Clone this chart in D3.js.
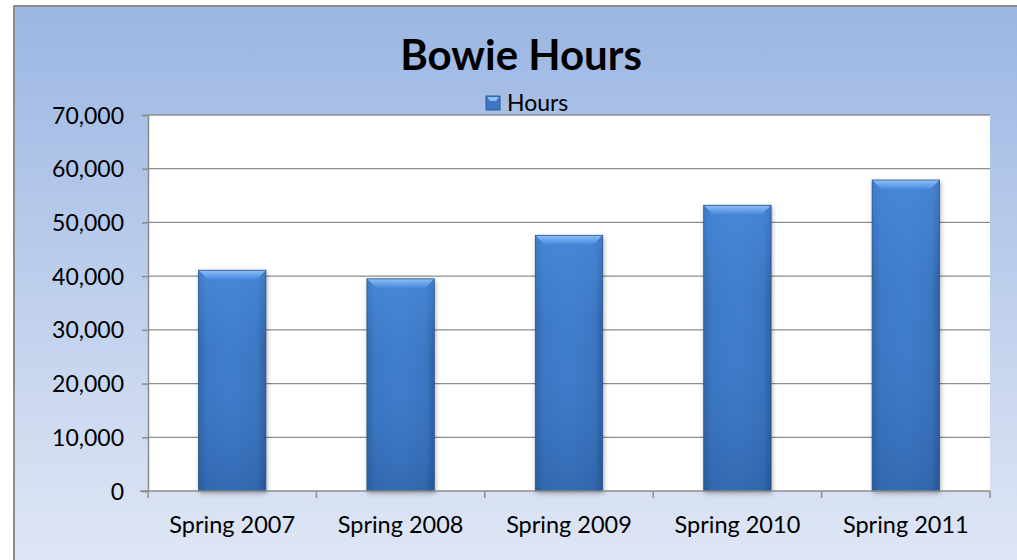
<!DOCTYPE html>
<html>
<head>
<meta charset="utf-8">
<script src="https://cdn.jsdelivr.net/npm/d3@7"></script>
<style>
body { margin: 0; background: #fff; }
text { font-family: Lato, "Open Sans", sans-serif; fill: #000; }
</style>
</head>
<body>
<div id="chart"></div>
<script>
// chart data
var categories = ["Spring 2007", "Spring 2008", "Spring 2009", "Spring 2010", "Spring 2011"];
var hours = [41100, 39500, 47600, 53200, 57900];
var yTicks = [0, 10000, 20000, 30000, 40000, 50000, 60000, 70000];

var W = 1017, H = 560;
var mrg = { top: 115, right: 27, bottom: 69, left: 148 };
var plotW = W - mrg.left - mrg.right,
    plotH = H - mrg.top - mrg.bottom;

var svg = d3.select("#chart").append("svg")
  .attr("width", W).attr("height", H);

var defs = svg.append("defs");
var bg = defs.append("linearGradient").attr("id", "bg")
  .attr("x1", 0).attr("y1", 0).attr("x2", 0).attr("y2", 1);
bg.append("stop").attr("offset", "0%").attr("stop-color", "#9bb6e3");
bg.append("stop").attr("offset", "100%").attr("stop-color", "#e0e7f5");

var barG = defs.append("linearGradient").attr("id", "barG")
  .attr("x1", 0).attr("y1", 0).attr("x2", 1).attr("y2", 0);
barG.append("stop").attr("offset", "0%").attr("stop-color", "#2f63a6");
barG.append("stop").attr("offset", "12%").attr("stop-color", "#3b77c4");
barG.append("stop").attr("offset", "50%").attr("stop-color", "#3f7ccb");
barG.append("stop").attr("offset", "88%").attr("stop-color", "#3a74bf");
barG.append("stop").attr("offset", "100%").attr("stop-color", "#2b5a98");

var shade = defs.append("linearGradient").attr("id", "shade")
  .attr("x1", 0).attr("y1", 0).attr("x2", 0).attr("y2", 1);
shade.append("stop").attr("offset", "0%").attr("stop-color", "#4d8fe0").attr("stop-opacity", 0.6);
shade.append("stop").attr("offset", "35%").attr("stop-color", "#4d8fe0").attr("stop-opacity", 0.1);
shade.append("stop").attr("offset", "100%").attr("stop-color", "#1f4a85").attr("stop-opacity", 0.35);

var bevel = defs.append("linearGradient").attr("id", "bevel")
  .attr("x1", 0).attr("y1", 0).attr("x2", 0).attr("y2", 1);
bevel.append("stop").attr("offset", "0%").attr("stop-color", "#8dc0f5");
bevel.append("stop").attr("offset", "100%").attr("stop-color", "#4a8ae0");

var blur = defs.append("filter").attr("id", "shadow")
  .attr("x", "-20%").attr("y", "-5%").attr("width", "140%").attr("height", "115%");
blur.append("feGaussianBlur").attr("stdDeviation", 2.5);

// background frame
svg.append("rect")
  .attr("x", 14).attr("y", 6).attr("width", W).attr("height", H)
  .attr("fill", "url(#bg)").attr("stroke", "#8c8c8c").attr("stroke-width", 2);

svg.append("text")
  .attr("x", 521).attr("y", 70)
  .attr("text-anchor", "middle")
  .style("font-size", "42px").style("font-weight", "bold")
  .text("Bowie Hours");

// legend
svg.append("rect").attr("x", 486).attr("y", 96).attr("width", 14).attr("height", 14)
  .attr("fill", "#3c78c6").attr("stroke", "#2b5a98");
svg.append("path").attr("d", "M487,97 L499,97 L496,101 L490,101 Z").attr("fill", "#8dc0f5");
svg.append("text").attr("x", 507).attr("y", 111)
  .style("font-size", "23px").text("Hours");

var chart = svg.append("g")
  .attr("transform", `translate(${mrg.left}, ${mrg.top})`);

chart.append("rect").attr("width", plotW).attr("height", plotH).attr("fill", "#fff");

var xScale = d3.scaleBand().domain(categories).range([0, plotW]).paddingInner(0.6).paddingOuter(0.3);
var xEdge = d3.scaleBand().domain(categories).range([0, plotW]);
var yScale = d3.scaleLinear().domain([0, 70000]).range([plotH, 0]);

// gridlines
chart.append("g").selectAll("line").data(yTicks.slice(1)).enter().append("line")
  .attr("x1", 0).attr("x2", plotW)
  .attr("y1", function (d) { return yScale(d); })
  .attr("y2", function (d) { return yScale(d); })
  .attr("stroke", "#8c8c8c").attr("stroke-width", 1.3);

var yAxis = chart.append("g")
  .call(d3.axisLeft(yScale).tickValues(yTicks).tickSize(6).tickPadding(18)
    .tickFormat(d3.format(",")));
yAxis.selectAll("text").style("font-size", "23px").attr("dy", "0.35em");

var bars = chart.append("g").selectAll("g").data(hours).enter().append("g")
  .attr("transform", function (d, i) { return `translate(${xScale(categories[i])},0)`; });

var bw = xScale.bandwidth();
bars.append("rect")
  .attr("x", 1).attr("y", function (d) { return yScale(d) + 2; })
  .attr("width", bw).attr("height", function (d) { return plotH - yScale(d); })
  .attr("fill", "#000").attr("opacity", 0.35).attr("filter", "url(#shadow)");
bars.append("rect")
  .attr("y", function (d) { return yScale(d); })
  .attr("width", bw).attr("height", function (d) { return plotH - yScale(d); })
  .attr("fill", "url(#barG)");
bars.append("rect")
  .attr("y", function (d) { return yScale(d); })
  .attr("width", bw).attr("height", function (d) { return plotH - yScale(d); })
  .attr("fill", "url(#shade)");
bars.append("path")
  .attr("d", function (d) {
    var y = yScale(d);
    return `M0,${y} L${bw},${y} L${bw - 9},${y + 9} L9,${y + 9} Z`;
  })
  .attr("fill", "url(#bevel)");
bars.append("rect")
  .attr("y", function (d) { return yScale(d); })
  .attr("width", bw).attr("height", function (d) { return plotH - yScale(d); })
  .attr("fill", "none").attr("stroke", "#2a5690").attr("stroke-width", 0.8);

// x axis with ticks at category boundaries
var xAxis = chart.append("g").attr("transform", `translate(0, ${plotH})`);
xAxis.append("line").attr("x1", -8).attr("x2", plotW).attr("stroke", "#8c8c8c").attr("stroke-width", 1.5);
xAxis.selectAll(".tk").data(d3.range(categories.length + 1)).enter().append("line")
  .attr("x1", function (i) { return i * xEdge.step(); })
  .attr("x2", function (i) { return i * xEdge.step(); })
  .attr("y1", 0).attr("y2", 7)
  .attr("stroke", "#8c8c8c").attr("stroke-width", 1.5);
xAxis.selectAll(".lbl").data(categories).enter().append("text")
  .attr("x", function (d) { return xEdge(d) + xEdge.bandwidth() / 2; })
  .attr("y", 42)
  .attr("text-anchor", "middle")
  .style("font-size", "23.5px")
  .text(function (d) { return d; });

yAxis.select(".domain").attr("stroke", "#8c8c8c").attr("stroke-width", 1.5);
yAxis.selectAll(".tick line").attr("stroke", "#8c8c8c").attr("stroke-width", 1.5);
</script>
</body>
</html>
